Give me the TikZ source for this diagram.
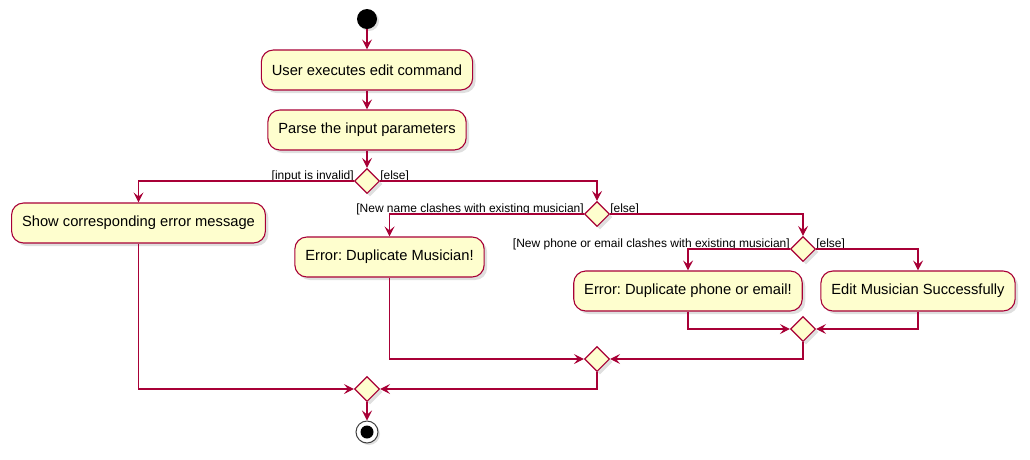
\documentclass[tikz,border=0pt]{standalone}
\usepackage{fontspec}
\setmainfont{Liberation Sans}
\frenchspacing
\usetikzlibrary{shapes.geometric,arrows.meta,shadows}
\definecolor{umlred}{HTML}{A80036}
\definecolor{umlfill}{HTML}{FEFECE}
\tikzset{
action/.style={
	draw=umlred, fill=umlfill, line width=1.1pt, rounded corners=12pt,
	minimum height=40pt, inner xsep=10.5pt, font=\fontsize{14.7}{17}\selectfont,
	drop shadow={shadow xshift=3pt, shadow yshift=-3pt, opacity=.25}},
branch/.style={
	draw=umlred, fill=umlfill, line width=1.1pt, diamond, aspect=1,
	minimum size=25pt, inner sep=0pt,
	drop shadow={shadow xshift=3pt, shadow yshift=-3pt, opacity=.25}},
guard/.style={inner sep=0pt, font=\fontsize{12}{14}\selectfont},
flow/.style={draw=umlred, line width=1.1pt, -{Stealth[length=10pt, width=10pt, inset=4pt]}},
startnode/.style={circle, fill=black, minimum size=20pt, inner sep=0pt,
	drop shadow={shadow xshift=2pt, shadow yshift=-2pt, opacity=.25}},
endnode/.style={circle, draw=black!75, fill=white, line width=1pt, minimum size=22pt, inner sep=0pt,
	drop shadow={shadow xshift=2pt, shadow yshift=-2pt, opacity=.25},
	path picture={\fill[black] (path picture bounding box.center) circle (6.5pt);}}
}

\begin{document}
\begin{tikzpicture}[x=1pt, y=-1pt]
	\useasboundingbox (0,0) rectangle (1030,459);
	% actions
	\node[startnode] (start) at (367,19) {};
	\node[action] (exec) at (367,70) {User executes edit command};
	\node[action] (parse) at (367,130) {Parse the input parameters};
	\node[branch, label={[guard, anchor=base east, yshift=2pt]west:[input is invalid]},
		label={[guard, anchor=base west, yshift=2pt]east:[else]}] (d1) at (367,181) {};
	\node[action] (showerr) at (138.5,223) {Show corresponding error message};
	\node[branch, label={[guard, anchor=base east, yshift=2pt]west:[New name clashes with existing musician]},
		label={[guard, anchor=base west, yshift=2pt]east:[else]}] (d2) at (597,214) {};
	\node[action] (dupname) at (389.5,257) {Error: Duplicate Musician!};
	\node[branch, label={[guard, anchor=base east, yshift=2pt]west:[New phone or email clashes with existing musician]},
		label={[guard, anchor=base west, yshift=2pt]east:[else]}] (d3) at (803,249) {};
	\node[action] (dupphone) at (688,291) {Error: Duplicate phone or email!};
	\node[action] (editok) at (918,291) {Edit Musician Successfully};
	% merges
	\node[branch] (m1) at (803,329) {};
	\node[branch] (m2) at (597,359) {};
	\node[branch] (m3) at (367,389) {};
	\node[endnode] (stop) at (367,432) {};

	\draw[flow] (start) -- (exec);
	\draw[flow] (exec) -- (parse);
	\draw[flow] (parse) -- (d1);
	\draw[flow] (d1.west) -| (showerr.north);
	\draw[flow] (d1.east) -| (d2.north);
	\draw[flow] (d2.west) -| (dupname.north);
	\draw[flow] (d2.east) -| (d3.north);
	\draw[flow] (d3.west) -| (dupphone.north);
	\draw[flow] (d3.east) -| (editok.north);
	\draw[flow] (dupphone.south) |- (m1.west);
	\draw[flow] (editok.south) |- (m1.east);
	\draw[flow] (m1.south) |- (m2.east);
	\draw[flow] (dupname.south) |- (m2.west);
	\draw[flow] (m2.south) |- (m3.east);
	\draw[flow] (showerr.south) |- (m3.west);
	\draw[flow] (m3) -- (stop);
\end{tikzpicture}
\end{document}
